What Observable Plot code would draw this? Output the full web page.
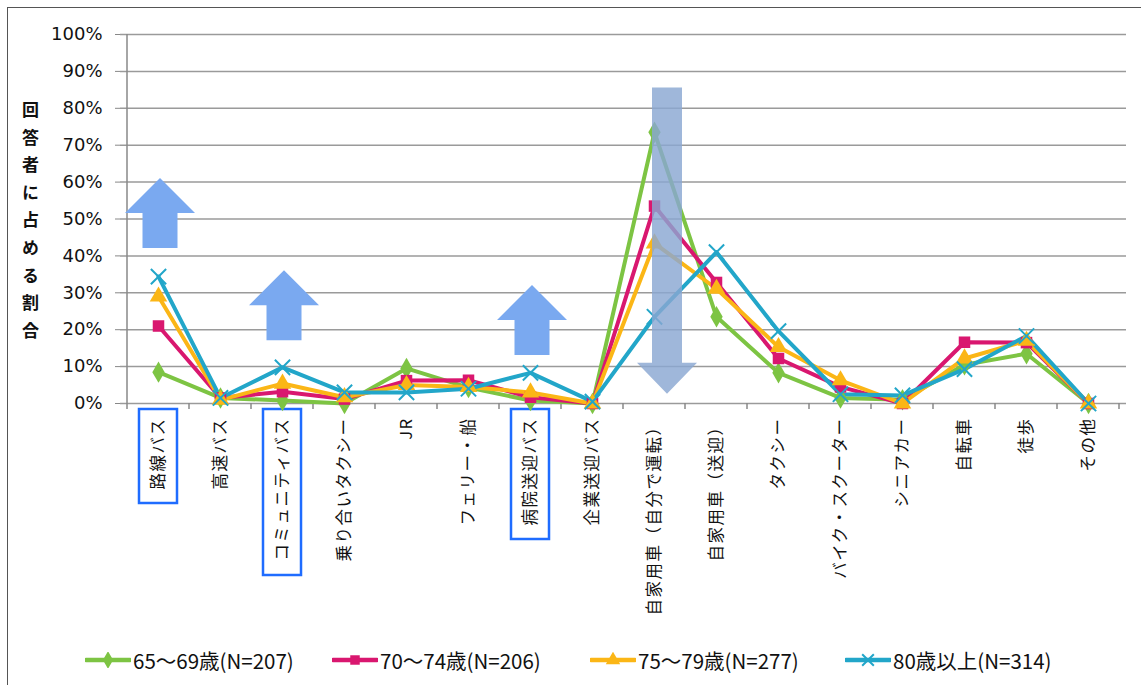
<!DOCTYPE html>
<html><head><meta charset="utf-8">
<script src="https://cdn.jsdelivr.net/npm/d3@7"></script>
<script src="https://cdn.jsdelivr.net/npm/@observablehq/plot@0.6"></script>
<style>
body{margin:0;background:#fff;font-family:"Noto Sans CJK JP",sans-serif;}
#wrap{position:relative;width:1141px;height:685px;overflow:hidden;background:#fff;}
#border{position:absolute;left:7px;top:7px;width:1140px;height:700px;border-left:1.5px solid #555;border-top:1.5px solid #555;}
#chart{position:absolute;left:0;top:0;}
#ytitle{position:absolute;left:18px;top:101px;writing-mode:vertical-rl;text-orientation:upright;font-weight:bold;font-size:17px;letter-spacing:10.6px;font-family:"Noto Sans CJK JP",sans-serif;color:#111;}
#legend{position:absolute;top:645px;left:0;width:1141px;height:30px;font-size:20.5px;font-family:"Noto Sans CJK JP",sans-serif;color:#111;}
#legend .item{position:absolute;top:0;display:flex;align-items:center;}
#legend svg{margin-right:2px;}
g[aria-label="x-axis tick label"] text{letter-spacing:1.5px;}
</style></head><body>
<div id="wrap"><div id="border"></div><div id="chart"></div><div id="ytitle">回答者に占める割合</div><div id="legend"></div></div>
<script>
const categories = ["路線バス","高速バス","コミュニティバス","乗り合いタクシー","JR","フェリー・船","病院送迎バス","企業送迎バス","自家用車（自分で運転）","自家用車（送迎）","タクシー","バイク・スクーター","シニアカー","自転車","徒歩","その他"];
const seriesNames = ["65～69歳(N=207)","70～74歳(N=206)","75～79歳(N=277)","80歳以上(N=314)"];
const v65to69 = [8.5, 1.5, 0.8, 0, 9.5, 4.3, 0.8, 0, 73.5, 23.5, 8.3, 1.5, 1, 10.5, 13.5, 0];
const v70to74 = [21, 1.5, 3.2, 1.2, 6.2, 6.3, 1.7, 0, 53.5, 32.8, 12.2, 4.5, 0, 16.6, 16.5, 0];
const v75to79 = [29, 1, 5.4, 1.7, 5, 4.5, 3, 0, 43.4, 31.1, 15.3, 6.3, 0, 12.2, 17, 0];
const v80plus = [34.4, 1.5, 9.8, 3, 3, 4, 8.3, 0.5, 23.5, 41, 19.6, 2.5, 2.2, 9.3, 18.3, 0];
const yTicks = [0,10,20,30,40,50,60,70,80,90,100];
const colors = ["#7dc443","#d9176f","#fbb616","#22a6c9"];
const symbols = ["diamond","square","triangle","times"];
const highlighted = ["路線バス","コミュニティバス","病院送迎バス"];
const upArrows = [{category:"路線バス", tip:61},{category:"コミュニティバス", tip:36},{category:"病院送迎バス", tip:32}];
const downArrows = [{category:"自家用車（自分で運転）", from:85.5, to:2.5}];

const allValues = [v65to69, v70to74, v75to79, v80plus];
const data = [];
seriesNames.forEach((s, i) => categories.forEach((c, j) => data.push({series: s, category: c, value: allValues[i][j]})));

const FONT = "'Noto Sans CJK JP', sans-serif";
const canvas = document.createElement("canvas");
const ctx = canvas.getContext("2d");
ctx.font = "16.5px " + FONT;

const chart = Plot.plot({
  width: 1141, height: 640,
  marginLeft: 120, marginRight: 15, marginTop: 34, marginBottom: 237,
  style: {fontFamily: FONT, color: "#111", background: "transparent"},
  x: {type: "point", domain: categories, padding: 0.5, label: null},
  y: {domain: [0, 100], label: null},
  color: {domain: seriesNames, range: colors},
  symbol: {domain: seriesNames, range: symbols},
  marks: [
    Plot.gridY(yTicks, {stroke: "#9a9a9a", strokeOpacity: 1, strokeWidth: 1.5}),
    Plot.axisY({ticks: yTicks, tickFormat: d => d + "%", tickSize: 5, tickPadding: 13, fontSize: 18, fontFamily: "DejaVu Sans", stroke: "#888", label: null}),
    Plot.axisX({tickRotate: -90, tickSize: 0, tickPadding: 14, fontSize: 16.5, label: null}),
    (index, {x, y}) => {
      const g = d3.create("svg:g");
      const step = x.step ? x.step() : (x(categories[1]) - x(categories[0]));
      const x0 = x(categories[0]) - step / 2;
      g.append("line").attr("x1", x0).attr("x2", x0).attr("y1", y(100)).attr("y2", y(0)).attr("stroke", "#888").attr("stroke-width", 1.5);
      for (let k = 0; k <= categories.length; k++) {
        const xx = x0 + k * step;
        g.append("line").attr("x1", xx).attr("x2", xx).attr("y1", y(0)).attr("y2", y(0) + 6).attr("stroke", "#888").attr("stroke-width", 1.5);
      }
      for (const c of highlighted) {
        const len = ctx.measureText(c).width + c.length * 1.5;
        const cx = x(c);
        g.append("rect").attr("x", cx - 19).attr("y", y(0) + 6).attr("width", 38).attr("height", len + 22)
          .attr("fill", "none").attr("stroke", "#1f6cff").attr("stroke-width", 2.5);
      }
      return g.node();
    },
    Plot.lineY(data, {x: "category", y: "value", stroke: "series", strokeWidth: 4, strokeLinejoin: "round"}),
    Plot.dot(data.filter(d => d.series !== seriesNames[3]), {x: "category", y: "value", fill: "series", symbol: "series", r: 6.5}),
    Plot.dot(data.filter(d => d.series === seriesNames[3]), {x: "category", y: "value", stroke: "series", symbol: "series", r: 7, strokeWidth: 2}),
    (index, {x, y}) => {
      const g = d3.create("svg:g");
      for (const a of upArrows) {
        const cx = x(a.category) + 2, ty = y(a.tip);
        const hw = 35, sw = 17.5, hh = 35, total = 70;
        const p = [[cx, ty],[cx + hw, ty + hh],[cx + sw, ty + hh],[cx + sw, ty + total],[cx - sw, ty + total],[cx - sw, ty + hh],[cx - hw, ty + hh]];
        g.append("path").attr("d", "M" + p.join("L") + "Z").attr("fill", "#7aa9f0");
      }
      for (const a of downArrows) {
        const cx = x(a.category) + 13, top = y(a.from), tip = y(a.to);
        const hw = 30, sw = 15, hh = 31;
        const p = [[cx - sw, top],[cx + sw, top],[cx + sw, tip - hh],[cx + hw, tip - hh],[cx, tip],[cx - hw, tip - hh],[cx - sw, tip - hh]];
        g.append("path").attr("d", "M" + p.join("L") + "Z").attr("fill", "#8aa7d2").attr("fill-opacity", 0.82);
      }
      return g.node();
    }
  ]
});
document.getElementById("chart").appendChild(chart);

// legend
const legendLefts = [85, 332, 590, 845];
const legend = d3.select("#legend");
seriesNames.forEach((s, i) => {
  const item = legend.append("div").attr("class", "item").style("left", legendLefts[i] + "px");
  const sv = item.append("svg").attr("width", 46).attr("height", 16);
  sv.append("line").attr("x1", 1).attr("x2", 45).attr("y1", 8).attr("y2", 8).attr("stroke", colors[i]).attr("stroke-width", 4.5).attr("stroke-linecap", "round");
  const sym = d3.symbol().type({diamond: d3.symbolDiamond, square: d3.symbolSquare, triangle: d3.symbolTriangle, times: d3.symbolTimes}[symbols[i]]).size(90)();
  const p = sv.append("path").attr("d", sym).attr("transform", "translate(23,8)");
  if (symbols[i] === "times") p.attr("fill", "none").attr("stroke", colors[i]).attr("stroke-width", 2);
  else p.attr("fill", colors[i]);
  item.append("span").text(s);
});
</script>
</body></html>
